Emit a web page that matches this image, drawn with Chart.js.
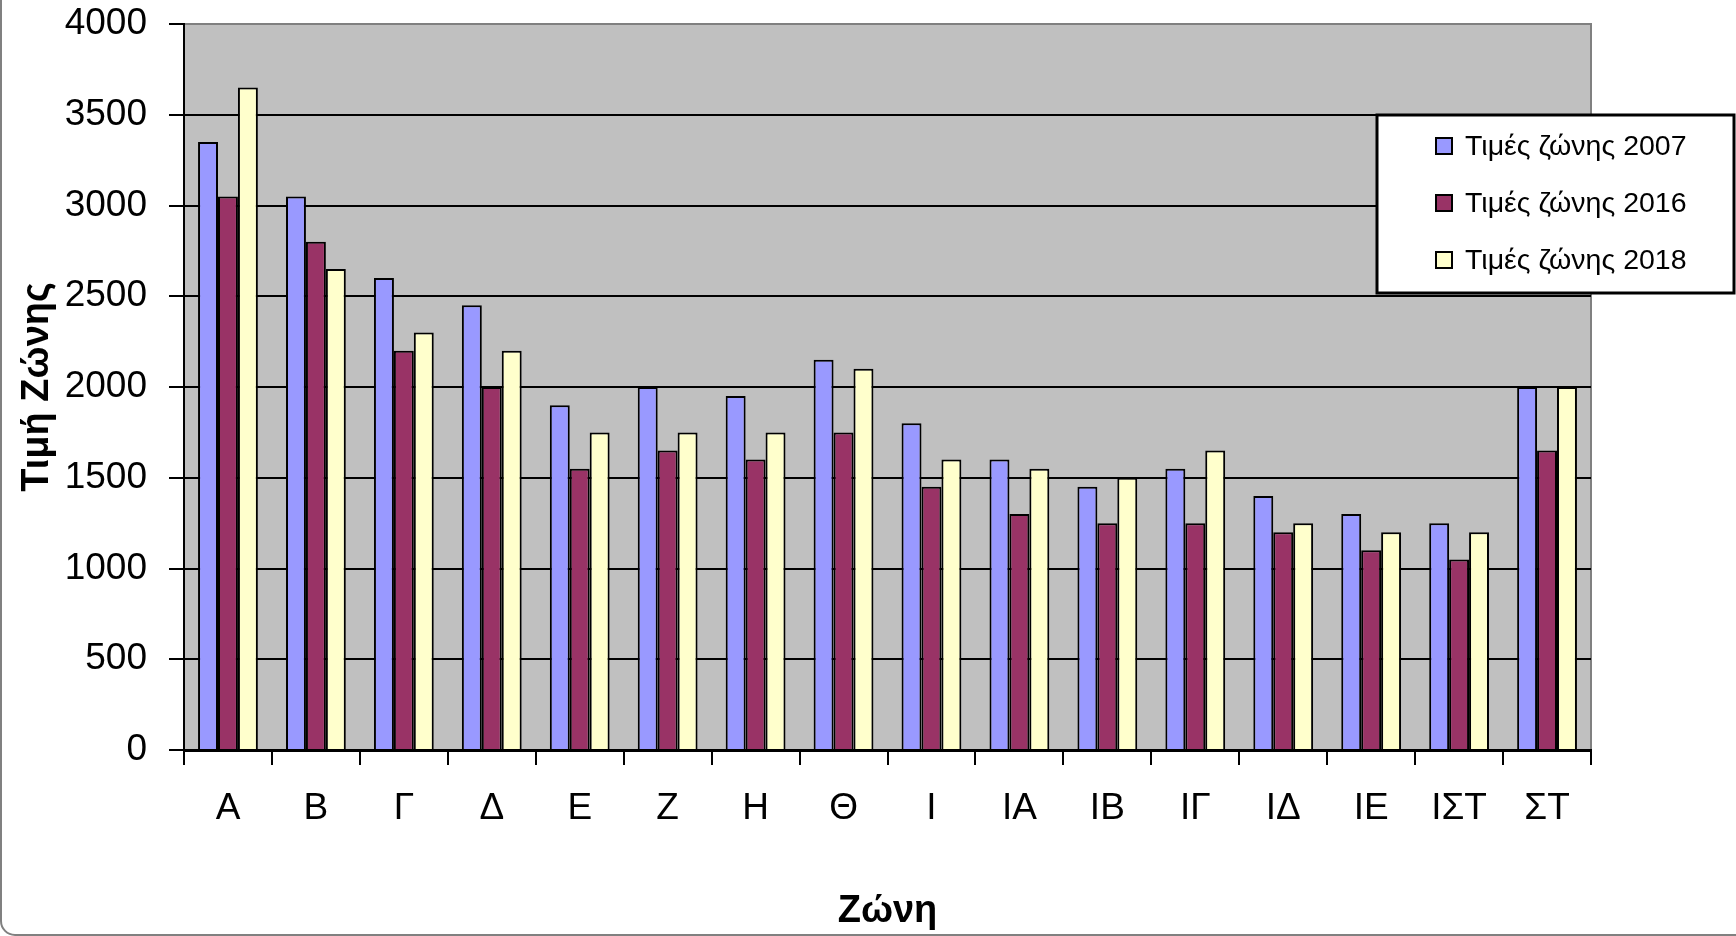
<!DOCTYPE html>
<html>
<head>
<meta charset="utf-8">
<title>Τιμές ζώνης</title>
<script src="https://cdn.jsdelivr.net/npm/chart.js@4/dist/chart.umd.min.js"></script>
<style>
    body { margin: 0; background: #fff; }
    #wrap { width: 1736px; height: 936px; position: relative; }
</style>
</head>
<body>
<div id="wrap"><canvas id="barChart"></canvas></div>
<script>
var zones = ['Α', 'Β', 'Γ', 'Δ', 'Ε', 'Ζ', 'Η', 'Θ', 'Ι', 'ΙΑ', 'ΙΒ', 'ΙΓ', 'ΙΔ', 'ΙΕ', 'ΙΣΤ', 'ΣΤ'];
var prices2007 = [3350, 3050, 2600, 2450, 1900, 2000, 1950, 2150, 1800, 1600, 1450, 1550, 1400, 1300, 1250, 2000];
var prices2016 = [3050, 2800, 2200, 2000, 1550, 1650, 1600, 1750, 1450, 1300, 1250, 1250, 1200, 1100, 1050, 1650];
var prices2018 = [3650, 2650, 2300, 2200, 1750, 1750, 1750, 2100, 1600, 1550, 1500, 1650, 1250, 1200, 1200, 2000];
var yMin = 0;
var yMax = 4000;
var yStep = 500;

var fontName = '"Liberation Sans", Arial, sans-serif';

// gray plot area, frame and the boxed legend on the right
var chartDecor = {
    id: 'chartDecor',
    beforeDraw: function (chart) {
        var ctx = chart.ctx, a = chart.chartArea;
        ctx.save();
        ctx.fillStyle = '#ffffff';
        ctx.fillRect(0, 0, chart.width, chart.height);
        ctx.fillStyle = '#c0c0c0';
        ctx.fillRect(a.left, a.top, a.right - a.left, a.bottom - a.top);
        ctx.strokeStyle = '#808080';
        ctx.lineWidth = 2;
        ctx.strokeRect(a.left, a.top, a.right - a.left, a.bottom - a.top);
        // outer chart frame, only left and bottom edges show
        ctx.beginPath();
        ctx.roundRect(1, -30, chart.width + 30, chart.height - 1 + 30, 14);
        ctx.stroke();
        ctx.restore();
    },
    afterDraw: function (chart) {
        var ctx = chart.ctx;
        var sets = chart.data.datasets;
        ctx.save();
        ctx.fillStyle = '#ffffff';
        ctx.fillRect(1377, 115, 357, 178);
        ctx.strokeStyle = '#000';
        ctx.lineWidth = 3;
        ctx.strokeRect(1377, 115, 357, 178);
        ctx.font = '28.5px ' + fontName;
        ctx.textBaseline = 'middle';
        for (var i = 0; i < sets.length; i++) {
            var y = 146 + i * 57;
            ctx.fillStyle = sets[i].backgroundColor;
            ctx.fillRect(1436, y - 8, 16, 16);
            ctx.lineWidth = 2;
            ctx.strokeRect(1436, y - 8, 16, 16);
            ctx.fillStyle = '#000';
            ctx.fillText(sets[i].label, 1465, y + 1);
        }
        ctx.restore();
    }
};

var barData = {
    labels: zones,
    datasets: [
        {
            label: 'Τιμές ζώνης 2007',
            backgroundColor: '#9999ff',
            borderColor: '#000',
            borderWidth: 2,
            data: prices2007
        }, {
            label: 'Τιμές ζώνης 2016',
            backgroundColor: '#993366',
            borderColor: '#000',
            borderWidth: 2,
            data: prices2016
        }, {
            label: 'Τιμές ζώνης 2018',
            backgroundColor: '#ffffcc',
            borderColor: '#000',
            borderWidth: 2,
            data: prices2018
        }
    ]
};

var barOptions = {
    responsive: true,
    maintainAspectRatio: false,
    animation: false,
    devicePixelRatio: 1,
    layout: { padding: { top: 24, right: 145, left: 0, bottom: 0 } },
    datasets: { bar: { categoryPercentage: 0.68, barPercentage: 1.0 } },
    plugins: {
        legend: { display: false },
        tooltip: { enabled: false }
    },
    scales: {
        x: {
            afterFit: function (scale) { scale.height = 186; },
            grid: {
                offset: true,
                drawOnChartArea: false,
                color: '#000',
                lineWidth: 2,
                tickLength: 15
            },
            border: { color: '#000', width: 3 },
            ticks: {
                color: '#000',
                padding: 22,
                font: { family: fontName, size: 37 }
            },
            title: {
                display: true,
                text: 'Ζώνη',
                color: '#000',
                padding: { top: 0, bottom: 2 },
                font: { family: fontName, size: 38, weight: 'bold' }
            }
        },
        y: {
            min: yMin,
            max: yMax,
            afterFit: function (scale) {
                scale.width = 184;
                scale.paddingTop = 0;
                scale.paddingBottom = 0;
            },
            grid: {
                color: function (c) { return c.tick && c.tick.value === yMax ? '#808080' : '#000'; },
                tickColor: '#000',
                lineWidth: 2,
                tickLength: 15
            },
            border: { color: '#000', width: 2 },
            ticks: {
                stepSize: yStep,
                color: '#000',
                padding: 22,
                font: { family: fontName, size: 37 },
                callback: function (value) { return String(value); }
            },
            title: {
                display: true,
                text: 'Τιμή Ζώνης',
                color: '#000',
                padding: { top: 15, bottom: 0 },
                font: { family: fontName, size: 38, weight: 'bold' }
            }
        }
    }
};

var ctx = document.getElementById('barChart');
new Chart(ctx, { type: 'bar', data: barData, options: barOptions, plugins: [chartDecor] });
</script>
</body>
</html>
